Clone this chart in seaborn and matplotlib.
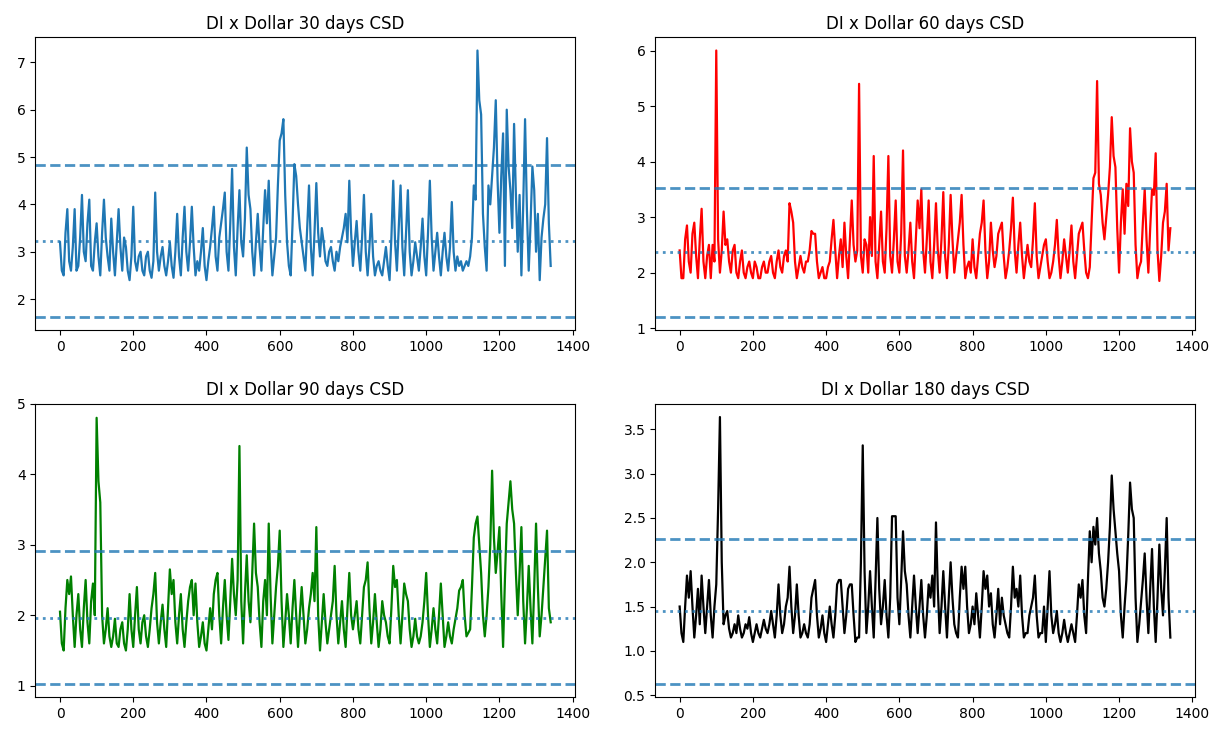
import numpy as np
import pandas as pd
import matplotlib
matplotlib.use("Agg")
import matplotlib.pyplot as plt
import seaborn as sns

# Day index of each observation (sampled every 5 days)
days = list(range(0, 1341, 5))

csd_30 = [
    3.2, 2.6, 2.5, 3.4, 3.9, 2.8, 2.6, 3.1, 3.9, 2.6, 2.7, 3.3, 4.2, 3.0, 2.8, 3.6, 4.1, 2.7, 2.6, 3.2,
    3.6, 2.9, 2.5, 3.4, 4.1, 3.3, 2.9, 2.6, 3.7, 3.0, 2.5, 3.2, 3.9, 3.1, 2.6, 3.3, 3.1, 2.6, 2.4, 2.9,
    3.95, 2.8, 2.6, 2.9, 3.0, 2.6, 2.5, 2.9, 3.0, 2.6, 2.45, 2.8, 4.25, 3.0, 2.6, 2.9, 3.1, 2.7, 2.5, 2.8,
    3.2, 2.7, 2.45, 3.0, 3.8, 2.9, 2.5, 3.3, 3.95, 3.0, 2.6, 3.2, 3.95, 3.1, 2.5, 2.8, 2.6, 3.0, 3.5, 2.7,
    2.4, 2.8, 3.1, 3.5, 3.95, 2.9, 2.6, 3.3, 3.6, 3.9, 4.25, 3.0, 2.6, 3.6, 4.75, 3.1, 2.5, 3.5, 4.3, 3.2,
    2.9, 3.7, 5.2, 4.2, 3.9, 3.0, 2.5, 3.2, 3.8, 3.1, 2.6, 3.5, 4.3, 3.6, 4.5, 3.2, 2.5, 2.9, 3.3, 4.4,
    5.35, 5.5, 5.8, 4.2, 3.2, 2.7, 2.5, 3.6, 4.85, 4.6, 4.0, 3.5, 3.2, 2.9, 2.6, 3.5, 4.4, 3.1, 2.5, 3.4,
    4.45, 3.4, 2.9, 3.5, 3.2, 2.8, 2.7, 3.0, 3.1, 2.8, 2.6, 3.0, 2.8, 3.1, 3.3, 3.5, 3.8, 3.2, 4.5, 3.4,
    2.7, 3.2, 3.65, 3.0, 2.6, 3.3, 4.2, 3.0, 2.5, 3.1, 3.8, 2.9, 2.5, 2.7, 2.8, 2.6, 2.5, 2.8, 3.1, 2.7,
    2.4, 3.3, 4.5, 3.2, 2.6, 3.5, 4.4, 3.1, 2.5, 3.4, 4.3, 3.0, 2.5, 2.8, 3.2, 2.9, 2.6, 3.1, 3.7, 2.9,
    2.5, 3.4, 4.5, 3.3, 2.6, 3.0, 3.4, 2.9, 2.5, 3.0, 3.4, 2.9, 2.6, 3.1, 4.05, 3.0, 2.6, 2.9, 2.7, 2.8,
    2.6, 2.7, 2.8, 2.7, 2.9, 3.3, 4.4, 4.1, 7.25, 6.2, 5.9, 3.8, 3.1, 2.6, 4.4, 4.0, 4.6, 5.2, 6.2, 4.5,
    3.4, 4.6, 5.5, 2.7, 6.0, 4.8, 4.3, 3.5, 5.7, 4.2, 3.0, 4.2, 2.5, 4.0, 5.8, 3.9, 2.6, 3.6, 4.8, 4.3,
    3.0, 3.8, 2.4, 3.3, 3.7, 4.0, 5.4, 3.6, 2.7]

csd_60 = [
    2.4, 1.9, 1.9, 2.6, 2.85, 2.2, 2.0, 2.7, 2.9, 2.3, 1.9, 2.6, 3.15, 2.2, 1.9, 2.3, 2.5, 1.9, 2.5, 2.2,
    6.0, 2.6, 2.0, 2.4, 3.1, 2.5, 2.6, 2.2, 2.0, 2.4, 2.5, 2.0, 1.9, 2.2, 2.4, 2.0, 1.9, 2.1, 2.2, 2.0,
    1.9, 2.2, 2.1, 1.9, 1.9, 2.1, 2.2, 2.0, 2.0, 2.2, 2.3, 2.0, 1.9, 2.2, 2.4, 2.1, 2.0, 2.3, 2.4, 2.2,
    3.25, 3.1, 2.9, 2.2, 1.9, 2.1, 2.3, 2.1, 2.0, 2.2, 2.2, 2.4, 2.75, 2.7, 2.7, 2.2, 1.9, 2.0, 2.1, 1.9,
    1.9, 2.1, 2.2, 2.6, 2.95, 2.4, 1.9, 2.3, 2.6, 2.1, 2.9, 2.3, 1.9, 2.6, 3.3, 2.5, 2.2, 2.4, 5.4, 2.3,
    2.0, 2.6, 2.5, 2.0, 3.0, 2.3, 4.1, 2.2, 1.9, 2.5, 3.1, 2.2, 2.0, 2.8, 4.1, 2.3, 2.0, 2.6, 3.3, 2.2,
    2.0, 2.7, 4.2, 2.3, 2.0, 2.4, 2.9, 2.2, 1.9, 2.6, 3.3, 2.8, 3.5, 2.4, 2.0, 2.6, 3.3, 2.2, 1.9, 2.5,
    3.25, 2.4, 2.0, 2.6, 3.45, 2.3, 1.9, 2.5, 3.4, 2.6, 2.0, 2.3, 2.6, 2.9, 3.4, 2.5, 1.9, 2.1, 2.2, 2.0,
    2.6, 2.1, 1.9, 2.3, 2.7, 2.9, 3.3, 2.4, 1.9, 2.2, 2.9, 2.4, 2.1, 2.3, 2.7, 2.8, 2.9, 2.3, 1.9, 2.1,
    2.4, 2.8, 3.35, 2.4, 2.0, 2.5, 2.9, 2.3, 1.9, 2.2, 2.5, 2.2, 2.1, 2.6, 3.25, 2.3, 1.9, 2.1, 2.3, 2.5,
    2.6, 2.2, 1.9, 2.0, 2.2, 2.5, 2.95, 2.3, 1.9, 2.2, 2.6, 2.3, 2.0, 2.4, 2.85, 2.2, 1.9, 2.3, 2.7, 2.8,
    2.9, 2.4, 2.0, 1.9, 2.1, 2.9, 3.7, 3.8, 5.45, 3.6, 3.4, 2.9, 2.6, 3.0, 3.4, 3.9, 4.8, 4.1, 3.9, 2.8,
    2.0, 2.9, 3.5, 2.7, 3.6, 3.2, 4.6, 4.0, 3.8, 2.5, 1.9, 2.1, 2.2, 2.9, 3.5, 2.6, 2.0, 2.8, 3.5, 3.4,
    4.15, 2.4, 1.85, 2.3, 2.9, 3.1, 3.6, 2.4, 2.8]

csd_90 = [
    2.05, 1.6, 1.5, 2.1, 2.5, 2.3, 2.55, 2.0, 1.55, 2.0, 2.3, 1.8, 1.55, 2.1, 2.5, 1.9, 1.6, 2.2, 2.45, 2.0,
    4.8, 3.9, 3.6, 2.0, 1.6, 1.8, 2.1, 1.7, 1.55, 1.7, 1.95, 1.6, 1.55, 1.8, 1.9, 1.6, 1.5, 1.8, 2.3, 1.8,
    1.55, 2.0, 2.4, 1.8, 1.6, 1.9, 2.0, 1.7, 1.55, 1.8, 2.1, 2.3, 2.6, 1.9, 1.6, 1.9, 2.15, 1.8, 1.55, 2.1,
    2.65, 2.3, 2.5, 1.9, 1.6, 2.0, 2.3, 1.8, 1.55, 1.9, 2.2, 2.4, 2.5, 2.0, 2.45, 1.9, 1.55, 1.7, 1.9, 1.6,
    1.5, 1.8, 2.1, 1.8, 2.3, 2.5, 2.6, 2.0, 1.6, 2.1, 2.5, 2.0, 1.65, 2.2, 2.8, 2.3, 2.0, 2.5, 4.4, 2.2,
    1.6, 2.3, 2.85, 2.2, 1.9, 2.6, 3.3, 2.6, 2.4, 1.9, 1.55, 2.2, 2.5, 2.0, 3.3, 2.3, 1.6, 2.0, 2.4, 2.7,
    3.2, 2.2, 1.55, 1.9, 2.3, 2.0, 1.6, 2.1, 2.5, 2.0, 1.55, 2.0, 2.4, 2.0, 1.6, 1.8, 2.1, 2.3, 2.6, 2.2,
    3.25, 2.0, 1.5, 1.9, 2.3, 1.9, 1.6, 1.8, 2.0, 2.2, 2.7, 2.0, 1.6, 1.9, 2.2, 1.8, 1.55, 2.1, 2.6, 2.0,
    1.8, 2.0, 2.2, 1.8, 1.6, 2.0, 2.4, 2.5, 2.75, 2.1, 1.6, 1.9, 2.3, 1.9, 1.55, 1.8, 2.2, 2.0, 1.9, 1.7,
    1.6, 2.1, 2.7, 2.4, 2.5, 2.0, 1.6, 2.0, 2.45, 2.3, 2.2, 1.8, 1.55, 1.7, 1.95, 1.7, 1.6, 1.7, 1.9, 2.2,
    2.6, 2.0, 1.55, 1.8, 2.1, 1.8, 1.6, 2.0, 2.45, 2.0, 1.55, 1.7, 1.9, 1.7, 1.6, 1.8, 1.95, 2.1, 2.35, 2.4,
    2.5, 2.0, 1.7, 1.75, 1.8, 2.4, 3.1, 3.3, 3.4, 3.0, 2.6, 2.0, 1.7, 2.0, 2.4, 3.0, 4.05, 3.1, 2.6, 2.9,
    3.25, 2.3, 1.55, 2.5, 3.3, 3.6, 3.9, 3.5, 3.3, 2.6, 2.0, 2.6, 3.25, 2.2, 1.6, 2.1, 2.7, 2.1, 1.6, 2.4,
    3.3, 2.4, 1.7, 2.0, 2.4, 2.8, 3.2, 2.1, 1.9]

csd_180 = [
    1.5, 1.2, 1.1, 1.5, 1.85, 1.6, 1.9, 1.5, 1.15, 1.4, 1.7, 1.3, 1.85, 1.5, 1.2, 1.5, 1.8, 1.4, 1.15, 1.5,
    1.75, 2.6, 3.64, 2.0, 1.3, 1.4, 1.45, 1.25, 1.15, 1.2, 1.3, 1.2, 1.4, 1.25, 1.15, 1.2, 1.3, 1.25, 1.38, 1.2,
    1.1, 1.2, 1.3, 1.2, 1.15, 1.25, 1.35, 1.25, 1.2, 1.3, 1.45, 1.3, 1.15, 1.4, 1.75, 1.4, 1.2, 1.3, 1.5, 1.6,
    1.95, 1.5, 1.2, 1.4, 1.75, 1.4, 1.15, 1.2, 1.3, 1.2, 1.15, 1.3, 1.6, 1.7, 1.8, 1.4, 1.15, 1.25, 1.4, 1.2,
    1.1, 1.3, 1.5, 1.3, 1.15, 1.4, 1.75, 1.8, 1.8, 1.5, 1.2, 1.4, 1.7, 1.75, 1.75, 1.4, 1.1, 1.15, 1.15, 2.0,
    3.32, 1.9, 1.2, 1.5, 1.9, 1.5, 1.15, 1.8, 2.5, 1.7, 1.3, 1.5, 1.8, 1.4, 1.15, 1.6, 2.52, 2.52, 2.52, 1.6,
    1.3, 1.8, 2.35, 1.9, 1.75, 1.4, 1.15, 1.5, 1.85, 1.5, 1.2, 1.5, 1.8, 1.4, 1.15, 1.4, 1.75, 1.6, 1.85, 1.5,
    2.45, 1.7, 1.2, 1.5, 1.9, 1.5, 1.15, 1.6, 2.0, 1.6, 1.3, 1.2, 1.15, 1.6, 1.95, 1.7, 1.95, 1.5, 1.2, 1.3,
    1.5, 1.3, 1.65, 1.4, 1.15, 1.5, 1.9, 1.7, 1.85, 1.5, 1.65, 1.3, 1.15, 1.4, 1.7, 1.3, 1.6, 1.4, 1.3, 1.2,
    1.15, 1.5, 1.95, 1.6, 1.7, 1.5, 1.85, 1.4, 1.15, 1.2, 1.2, 1.4, 1.5, 1.6, 1.85, 1.4, 1.15, 1.2, 1.2, 1.5,
    1.1, 1.5, 1.9, 1.4, 1.2, 1.3, 1.45, 1.2, 1.1, 1.2, 1.35, 1.2, 1.1, 1.2, 1.3, 1.2, 1.1, 1.4, 1.75, 1.6,
    1.8, 1.4, 1.2, 1.8, 2.35, 2.0, 2.4, 2.2, 2.5, 2.1, 1.9, 1.6, 1.5, 1.7, 2.0, 2.4, 2.98, 2.6, 2.35, 2.1,
    1.9, 1.4, 1.15, 1.5, 1.8, 2.3, 2.9, 2.6, 2.5, 1.6, 1.1, 1.3, 1.55, 1.8, 2.1, 1.6, 1.2, 1.7, 2.15, 1.5,
    1.1, 1.6, 2.2, 1.7, 1.4, 1.9, 2.5, 1.6, 1.15]

titles = ["DI x Dollar 30 days CSD", "DI x Dollar 60 days CSD",
          "DI x Dollar 90 days CSD", "DI x Dollar 180 days CSD"]
line_colors = ["#1f77b4", "red", "green", "black"]

# Reference bands per horizon: centre (dotted) and upper/lower limits (dashed)
band_mid = [3.22, 2.37, 1.96, 1.45]
band_upper = [4.83, 3.53, 2.915, 2.26]
band_lower = [1.62, 1.20, 1.03, 0.63]

series = [csd_30, csd_60, csd_90, csd_180]

fig, axes = plt.subplots(2, 2, figsize=(12.23, 7.29), dpi=100)
fig.subplots_adjust(left=0.029, right=0.977, top=0.949, bottom=0.044,
                    wspace=0.148, hspace=0.25)

for ax, vals, title, col, mid, hi, lo in zip(axes.flat, series, titles, line_colors,
                                              band_mid, band_upper, band_lower):
    df = pd.DataFrame({"day": days, "csd": vals})
    sns.lineplot(data=df, x="day", y="csd", ax=ax, color=col, linewidth=1.6)
    ax.axhline(hi, color="#1f77b4", alpha=0.8, linestyle="--", linewidth=2.0)
    ax.axhline(lo, color="#1f77b4", alpha=0.8, linestyle="--", linewidth=2.0)
    ax.axhline(mid, color="#1f77b4", alpha=0.8, linestyle=":", linewidth=2.0)
    ax.set_title(title, fontsize=12)
    ax.set_xlabel("")
    ax.set_ylabel("")
    ax.set_xticks(range(0, 1401, 200))
    ax.tick_params(labelsize=10)

axes[0, 0].set_yticks(range(2, 8))
axes[0, 1].set_yticks(range(1, 7))
axes[1, 0].set_yticks(range(1, 6))
axes[1, 1].set_yticks(np.arange(0.5, 3.51, 0.5))

fig.savefig("out.png", dpi=100)
